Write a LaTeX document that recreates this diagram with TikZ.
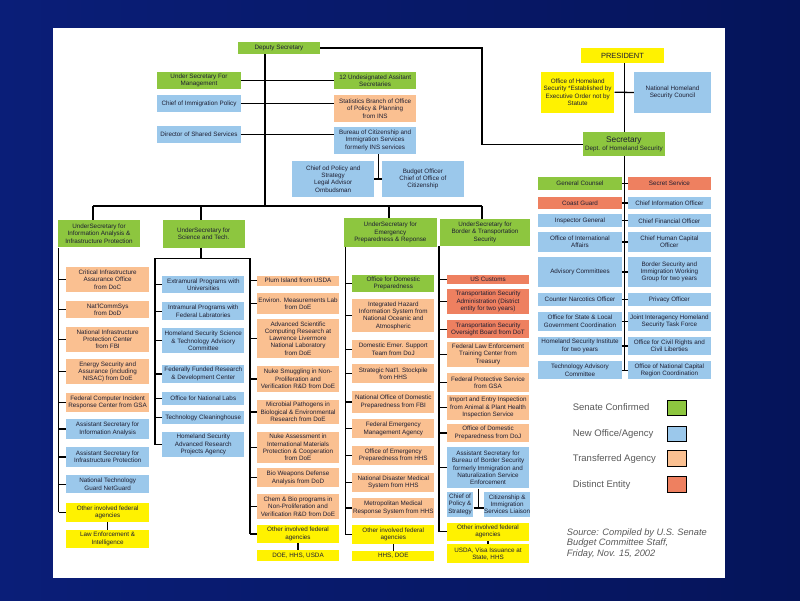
\documentclass[tikz,border=0pt]{standalone}
\usepackage{fontspec}
\setmainfont{Liberation Sans}
\definecolor{cgreen}{RGB}{141,198,63}
\definecolor{cblue}{RGB}{155,200,235}
\definecolor{corange}{RGB}{250,192,145}
\definecolor{cred}{RGB}{238,128,96}
\definecolor{cyellow}{RGB}{255,242,0}
\definecolor{ctext}{RGB}{30,30,50}
\definecolor{navyL}{RGB}{10,30,120}
\definecolor{navyR}{RGB}{5,20,90}
\tikzset{
 box/.style={inner sep=0pt, align=center, font=\fontsize{6.3}{7.3}\selectfont, text=ctext},
 conn/.style={line width=1.3pt, black},
 leg/.style={anchor=west, font=\fontsize{9.5}{11}\selectfont, text=black!65},
 swatch/.style={draw=black, line width=1pt, minimum width=19pt, minimum height=15.5pt, inner sep=0pt}
}
\newcommand\bx[7]{\node[box,fill=#6,minimum width={(#4-#2)*1pt},minimum height={(#5-#3)*1pt}] (#1) at ({(#2+#4)/2},{(#3+#5)/2}) {#7};}
\begin{document}
\begin{tikzpicture}[x=1pt,y=-1pt]
\useasboundingbox (0,0) rectangle (800,600);
\shade[left color=navyL, right color=navyR] (0,0) rectangle (800,600);
\fill[white] (53,28) rectangle (725,578);
% top
\bx{DS}{238}{42}{320}{54}{cgreen}{Deputy Secretary}
\bx{USM}{157.3}{71.7}{240.7}{89.3}{cgreen}{Under Secretary For\\Management}
\bx{UAS}{334.3}{72.3}{416}{89.3}{cgreen}{12 Undesignated Assitant\\Secretaries}
\bx{CIP}{157.3}{95}{240.7}{112.3}{cblue}{Chief of Immigration Policy}
\bx{STB}{334.3}{95}{416}{122.3}{corange}{Statistics Branch of Office\\of Policy \& Planning\\from INS}
\bx{DSS}{157.3}{126}{240.7}{142.7}{cblue}{Director of Shared Services}
\bx{BCIS}{334.3}{126.7}{416}{154}{cblue}{Bureau of Citizenship and\\Immigration Services\\formerly INS services}
\bx{CPS}{292.3}{161}{374}{196.7}{cblue}{Chief od Policy and\\Strategy\\Legal Advisor\\Ombudsman}
\bx{BOC}{381.7}{161}{464}{196.7}{cblue}{Budget Officer\\Chief of Office of\\Citizenship}
% president
\bx{PRES}{580.7}{48.3}{664.3}{62.7}{cyellow}{\fontsize{7.5}{8}\selectfont PRESIDENT}
\bx{OHS}{541}{71.7}{614.3}{112.7}{cyellow}{Office of Homeland\\Security *Established by\\Executive Order not by\\Statute}
\bx{NHSC}{634}{72.3}{711}{112.7}{cblue}{National Homeland\\Security Council}
\bx{SEC}{582.7}{132.3}{665}{156}{cgreen}{{\fontsize{8.3}{9}\selectfont Secretary}\\Dept. of Homeland Security}
% right rows
\bx{GC}{538.3}{177.3}{621.7}{190}{cgreen}{General Counsel}
\bx{SS}{627.7}{177.3}{711}{190}{cred}{Secret Service}
\bx{CG}{538.3}{196.7}{621.7}{209.3}{cred}{Coast Guard}
\bx{CIO}{627.7}{196.7}{711}{209.3}{cblue}{Chief Information Officer}
\bx{IG}{538.3}{214.3}{621.7}{227.3}{cblue}{Inspector General}
\bx{CFO}{627.7}{214.3}{711}{227.3}{cblue}{Chief Financial Officer}
\bx{OIA}{538.3}{232.3}{621.7}{251.7}{cblue}{Office of International\\Affairs}
\bx{CHC}{627.7}{232.3}{711}{251.7}{cblue}{Chief Human Capital\\Officer}
\bx{ADV}{538.3}{257.3}{621.7}{286.7}{cblue}{Advisory Committees}
\bx{BSI}{627.7}{257.3}{711}{286.7}{cblue}{Border Security and\\Immigration Working\\Group for two years}
\bx{CNO}{538.3}{293.3}{621.7}{306}{cblue}{Counter Narcotics Officer}
\bx{PRV}{627.7}{293.3}{711}{306}{cblue}{Privacy Officer}
\bx{OSL}{538.3}{311.7}{621.7}{330.7}{cblue}{Office for State \& Local\\Government Coordination}
\bx{JIH}{627.7}{311.7}{711}{330.7}{cblue}{Joint Interagency Homeland\\Security Task Force}
\bx{HSI}{538.3}{336.7}{621.7}{355}{cblue}{Homeland Security Institute\\for two years}
\bx{OCR}{627.7}{336.7}{711}{355}{cblue}{Office for Civil Rights and\\Civil Liberties}
\bx{TAC}{538.3}{361}{621.7}{379.3}{cblue}{Technology Advisory\\Committee}
\bx{NCR}{627.7}{361}{711}{379.3}{cblue}{Office of National Capital\\Region Coordination}
% IA column
\bx{UIA}{57.7}{220}{140.3}{247.3}{cgreen}{UnderSecretary for\\Information Analysis \&\\Infrastructure Protection}
\bx{CIA}{66}{266.7}{149.3}{292.3}{corange}{Critical Infrastructure\\Assurance Office\\from DoC}
\bx{NCS}{66}{300.7}{149.3}{318.3}{corange}{Nat'lCommSys\\from DoD}
\bx{NIP}{66}{326.7}{149.3}{351.7}{corange}{National Infrastructure\\Protection Center\\from FBI}
\bx{ESA}{66}{359.3}{149.3}{384.3}{corange}{Energy Security and\\Assurance (including\\NISAC) from DoE}
\bx{FCI}{66}{392.7}{149.3}{411.7}{corange}{Federal Computer Incident\\Response Center from GSA}
\bx{ASI}{66}{419.3}{149.3}{438.7}{cblue}{Assistant Secretary for\\Information Analysis}
\bx{ASP}{66}{447.3}{149.3}{466.7}{cblue}{Assistant Secretary for\\Infrastructure Protection}
\bx{NTG}{66}{475}{149.3}{493.3}{cblue}{National Technology\\Guard NetGuard}
\bx{IAO}{66}{502.7}{149.3}{521.7}{cyellow}{Other involved federal\\agencies}
\bx{LEI}{66}{530}{149.3}{547.7}{cyellow}{Law Enforcement \&\\Intelligence}
% S&T column
\bx{UST}{162.7}{220}{244.7}{247.7}{cgreen}{UnderSecretary for\\Science and Tech.}
\bx{SB1}{162.3}{275.7}{244.3}{293.3}{cblue}{Extramural Programs with\\Universities}
\bx{SB2}{162.3}{302.3}{244.3}{320}{cblue}{Intramural Programs with\\Federal Labratories}
\bx{SB3}{162.3}{328.3}{244.3}{353.3}{cblue}{Homeland Security Science\\\& Technology Advisory\\Committee}
\bx{SB4}{162.3}{365}{244.3}{382.7}{cblue}{Federally Funded Research\\\& Development Center}
\bx{SB5}{162.3}{391.7}{244.3}{405}{cblue}{Office for National Labs}
\bx{SB6}{162.3}{411}{244.3}{424}{cblue}{Technology Cleaninghouse}
\bx{SB7}{162.3}{431.7}{244.3}{457.3}{cblue}{Homeland Security\\Advanced Research\\Projects Agency}
\bx{SO1}{256.7}{275.7}{339.3}{285.7}{corange}{Plum Island from USDA}
\bx{SO2}{256.7}{293.3}{339.3}{314}{corange}{Environ. Measurements Lab\\from DoE}
\bx{SO3}{256.7}{319}{339.3}{357.7}{corange}{Advanced Scientific\\Computing Research at\\Lawrence Livermore\\National Laboratory\\from DoE}
\bx{SO4}{256.7}{366}{339.3}{391.7}{corange}{Nuke Smuggling in Non-\\Proliferation and\\Verification R\&D from DoE}
\bx{SO5}{256.7}{400}{339.3}{424}{corange}{Microbial Pathogens in\\Biological \& Environmental\\Research from DoE}
\bx{SO6}{256.7}{431.7}{339.3}{463.3}{corange}{Nuke Assessment in\\International Materials\\Protection \& Cooperation\\from DoE}
\bx{SO7}{256.7}{468.3}{339.3}{487.3}{corange}{Bio Weapons Defense\\Analysis from DoD}
\bx{SO8}{256.7}{494}{339.3}{519}{corange}{Chem \& Bio programs in\\Non-Proliferation and\\Verification R\&D from DoE}
\bx{STO}{256.7}{525}{339.3}{542.7}{cyellow}{Other involved federal\\agencies}
\bx{STD}{256.7}{550}{339.3}{561}{cyellow}{DOE, HHS, USDA}
% EP&R column
\bx{UEP}{344}{218.3}{436.7}{246.7}{cgreen}{UnderSecretary for\\Emergency\\Preparedness \& Reponse}
\bx{E1}{352.3}{275}{434.3}{292.3}{cgreen}{Office for Domestic\\Preparedness}
\bx{E2}{352.3}{299}{434.3}{332.3}{corange}{Integrated Hazard\\Information System from\\National Oceanic and\\Atmospheric}
\bx{E3}{352.3}{340}{434.3}{358.3}{corange}{Domestic Emer. Support\\Team from DoJ}
\bx{E4}{352.3}{364.3}{434.3}{383.3}{corange}{Strategic Nat'l. Stockpile\\from HHS}
\bx{E5}{352.3}{391}{434.3}{412.7}{corange}{National Office of Domestic\\Preparedness from FBI}
\bx{E6}{352.3}{419.3}{434.3}{438.3}{corange}{Federal Emergency\\Management Agency}
\bx{E7}{352.3}{446}{434.3}{465}{corange}{Office of Emergency\\Preparedness from HHS}
\bx{E8}{352.3}{472.7}{434.3}{491.7}{corange}{National Disaster Medical\\System from HHS}
\bx{E9}{352.3}{498.3}{434.3}{517.7}{corange}{Metropolitan Medical\\Response System from HHS}
\bx{EPO}{352.3}{525}{434.3}{544}{cyellow}{Other involved federal\\agencies}
\bx{EHD}{352.3}{551}{434.3}{560.7}{cyellow}{HHS, DOE}
% BTS column
\bx{UBT}{440}{219}{530}{245.7}{cgreen}{UnderSecretary for\\Border \& Transportation\\Security}
\bx{B1}{446.7}{275}{529.3}{284}{cred}{US Customs}
\bx{B2}{446.7}{289}{529.3}{314.3}{cred}{Transportation Security\\Administration (District\\entity for two years)}
\bx{B3}{446.7}{320}{529.3}{338.3}{cred}{Transportation Security\\Oversight Board from DoT}
\bx{B4}{446.7}{341.7}{529.3}{366.7}{corange}{Federal Law Enforcement\\Training Center from\\Treasury}
\bx{B5}{446.7}{373.3}{529.3}{391.7}{corange}{Federal Protective Service\\from GSA}
\bx{B6}{446.7}{395}{529.3}{420}{corange}{Import and Entry Inspection\\from Animal \& Plant Health\\Inspection Service}
\bx{B7}{446.7}{424}{529.3}{441.7}{corange}{Office of Domestic\\Preparedness from DoJ}
\bx{B8}{446.7}{447.3}{529.3}{488.3}{cblue}{Assistant Secretary for\\Bureau of Border Security\\formerly Immigration and\\Naturalization Service\\Enforcement}
\bx{B9}{446.7}{491.7}{473.3}{516.7}{cblue}{Chief of\\Policy \&\\Strategy}
\bx{B10}{485}{491.7}{529.3}{516.7}{cblue}{Citizenship \&\\Immigration\\Services Liaison}
\bx{BTO}{446.7}{522.7}{529.3}{540.7}{cyellow}{Other involved federal\\agencies}
\bx{BUS}{446.7}{544.3}{529.3}{563.3}{cyellow}{USDA, Visa Issuance at\\State, HHS}
% connectors top
\coordinate (sp) at (265,206);
\draw[conn] (DS.south -| sp) -- (sp);
\draw[conn] (USM.east) -- (USM.east -| UAS.west);
\draw[conn] (CIP.east) -- (CIP.east -| STB.west);
\draw[conn, line width=0.9pt] (DSS.east) -- (DSS.east -| BCIS.west);
\coordinate (bt) at (378.3,178.8);
\draw[conn] (BCIS.south -| bt) -- (bt);
\draw[conn] (CPS.east) -- (BOC.west);
\coordinate (dx) at (482,0);
\draw[conn] (DS.east) -- (DS.east -| dx) |- (SEC.west);
\coordinate (px) at (624.3,0);
\draw[conn] (PRES.south -| px) -- (SEC.north -| px);
\draw[conn] (OHS.east) -- (NHSC.west);
\draw[conn] (SEC.south -| px) -- (px |- TAC.east);
\foreach \a/\b in {GC/SS,CG/CIO,IG/CFO,OIA/CHC,ADV/BSI,CNO/PRV,OSL/JIH,HSI/OCR,TAC/NCR}
  \draw[conn] (\a.east) -- (\b.west);
% bus
\coordinate (b1) at (93,206);
\coordinate (b2) at (201,206);
\coordinate (b3) at (389,206);
\coordinate (b4) at (482,206);
\draw[conn] (b1) -- (b4);
\draw[conn] (b1) -- (b1 |- UIA.north);
\draw[conn] (b2) -- (b2 |- UST.north);
\draw[conn] (b3) -- (b3 |- UEP.north);
\draw[conn] (b4) -- (b4 |- UBT.north);
% IA
\coordinate (ia) at (58.7,0);
\draw[conn] (UIA.south -| ia) -- (ia |- IAO.west);
\foreach \n in {CIA,NCS,NIP,ESA,FCI,ASI,ASP,NTG,IAO}
  \draw[conn] (ia |- \n.west) -- (\n.west);
\draw[conn] (IAO.south) -- (LEI.north);
% S&T
\coordinate (sa) at (201,258.3);
\coordinate (sl) at (155,258.3);
\coordinate (sr) at (250,258.3);
\draw[conn] (UST.south -| sa) -- (sa);
\draw[conn] (sl) -- (sr);
\draw[conn] (sl) -- (sl |- SB7.west);
\draw[conn] (sr) -- (sr |- STO.west);
\foreach \n in {SB1,SB2,SB3,SB4,SB5,SB6,SB7}
  \draw[conn] (sl |- \n.west) -- (\n.west);
\foreach \n in {SO1,SO2,SO3,SO4,SO5,SO6,SO7,SO8,STO}
  \draw[conn] (sr |- \n.west) -- (\n.west);
\draw[conn] (STO.south) -- (STD.north);
% EP&R
\coordinate (ep) at (345.7,0);
\draw[conn] (UEP.south -| ep) -- (ep |- EPO.west);
\foreach \n in {E1,E2,E3,E4,E5,E6,E7,E8,E9,EPO}
  \draw[conn] (ep |- \n.west) -- (\n.west);
\draw[conn] (EPO.south) -- (EHD.north);
% BTS
\coordinate (bx) at (439,0);
\draw[conn] (UBT.south -| bx) -- (bx |- BTO.west);
\foreach \n in {B1,B2,B3,B4,B5,B6,B7,B8,BTO}
  \draw[conn] (bx |- \n.west) -- (\n.west);
\coordinate (bt2) at (478.3,508);
\draw[conn] (B8.south -| bt2) -- (bt2);
\draw[conn] (B9.east |- bt2) -- (B10.west |- bt2);
\draw[conn] (BTO.south) -- (BUS.north);
% legend
\node[leg] (l1) at (569.3,407.5) {Senate Confirmed};
\node[leg] (l2) at (569.3,434) {New Office/Agency};
\node[leg] (l3) at (569.3,459) {Transferred Agency};
\node[leg] (l4) at (569.3,485) {Distinct Entity};
\node[swatch, fill=cgreen] (s1) at (677.2,407.8) {};
\node[swatch, fill=cblue] (s2) at (677.2,434.2) {};
\node[swatch, fill=corange] (s3) at (677.2,458.7) {};
\node[swatch, fill=cred] (s4) at (677.2,484.7) {};
\node[anchor=north west, align=left, inner sep=0pt, text=black!65, font=\fontsize{9.3}{10.3}\selectfont\itshape] (src) at (566.7,528.5) {Source: Compiled by U.S. Senate\\Budget Committee Staff,\\Friday, Nov. 15, 2002};
\end{tikzpicture}
\end{document}
